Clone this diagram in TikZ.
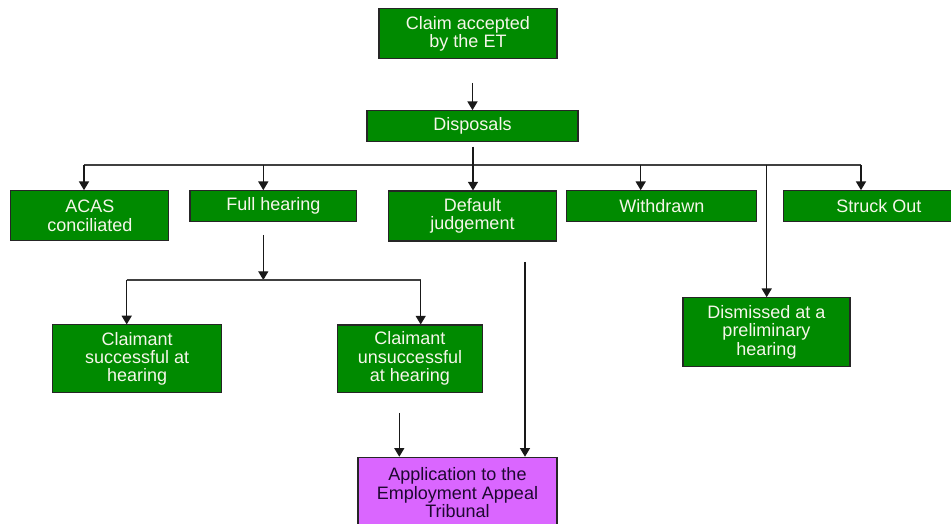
\documentclass[tikz,border=0pt]{standalone}
\usepackage{fontspec}
\setmainfont{Liberation Sans}
\usetikzlibrary{arrows.meta}
\definecolor{boxgreen}{HTML}{008A00}
\definecolor{boxtext}{HTML}{F6F6EA}
\definecolor{eatpurple}{HTML}{DA66FF}
\definecolor{eattext}{HTML}{1E0830}
\begin{document}
\begin{tikzpicture}[x=0.75pt,y=-0.75pt]
\tikzstyle{every node}+=[inner sep=0pt]
\tikzstyle{gbox}=[draw=black!85, line width=0.8pt, fill=boxgreen, text=boxtext, align=center, font=\fontsize{13.5}{13.8}\selectfont]
\tikzstyle{pbox}=[gbox, fill=eatpurple, text=eattext]
\tikzstyle{arr}=[-{Triangle[length=6.5pt,width=7.5pt]}, line width=1pt, draw=black!90]
\tikzstyle{bus}=[line width=1pt, draw=black!75]
\useasboundingbox (0,0) rectangle (951,524);
\node [gbox, minimum width=133.5pt, minimum height=37.9pt] (claim) at (468,33.7) {Claim accepted\\by the ET};
\node [gbox, minimum width=158.25pt, minimum height=23.25pt] (disp) at (472.5,126.2) {Disposals};
\node [gbox, minimum width=118.7pt, minimum height=37.7pt] (acas) at (89.8,215.8) {ACAS\\conciliated};
\node [gbox, minimum width=125pt, minimum height=23.25pt] (full) at (273.3,206.2) {Full hearing};
\node [gbox, minimum width=126.3pt, minimum height=37.5pt] (dflt) at (472.5,216) {Default\\judgement};
\node [gbox, minimum width=142.3pt, minimum height=23.25pt] (wdrn) at (661.8,206.2) {Withdrawn};
\node [gbox, minimum width=142.3pt, minimum height=23.25pt] (strk) at (878.8,206.2) {Struck Out};
\node [gbox, minimum width=125.25pt, minimum height=51.75pt] (dism) at (766.5,332.2) {Dismissed at a\\preliminary\\hearing};
\node [gbox, minimum width=126.75pt, minimum height=50.8pt] (succ) at (137.2,358.8) {Claimant\\successful at\\hearing};
\node [gbox, minimum width=109pt, minimum height=50.5pt] (unsc) at (410,358.7) {Claimant\\unsuccessful\\at hearing};
\node [pbox, minimum width=149.25pt, minimum height=53.25pt] (eat) at (457.5,492.8) {Application to the\\Employment Appeal\\Tribunal};
\coordinate (c0) at (472.5,83);
\draw [arr] (c0) -- (disp.north);
\coordinate (d0) at (473,146.7);
\coordinate (bl) at (84,165);
\coordinate (bf) at (263.3,165);
\coordinate (bw) at (640.7,165);
\coordinate (bd) at (766.7,165);
\coordinate (br) at (861,165);
\draw [bus] (bl) -- (br);
\draw [arr] (d0) -- (d0 |- dflt.north);
\draw [arr] (bl) -- (bl |- acas.north);
\draw [arr] (bf) -- (bf |- full.north);
\draw [arr] (bw) -- (bw |- wdrn.north);
\draw [arr] (br) -- (br |- strk.north);
\draw [arr] (bd) -- (bd |- dism.north);
\coordinate (f0) at (263.3,235);
\coordinate (f1) at (263.3,280);
\coordinate (fl) at (126.7,280);
\coordinate (fr) at (420.7,280);
\draw [arr] (f0) -- (f1);
\draw [bus] (fl) -- (fr);
\draw [arr] (fl) -- (fl |- succ.north);
\draw [arr] (fr) -- (fr |- unsc.north);
\coordinate (u0) at (399.3,413);
\draw [arr] (u0) -- (u0 |- eat.north);
\coordinate (j0) at (525,262);
\draw [arr] (j0) -- (j0 |- eat.north);
\end{tikzpicture}
\end{document}
